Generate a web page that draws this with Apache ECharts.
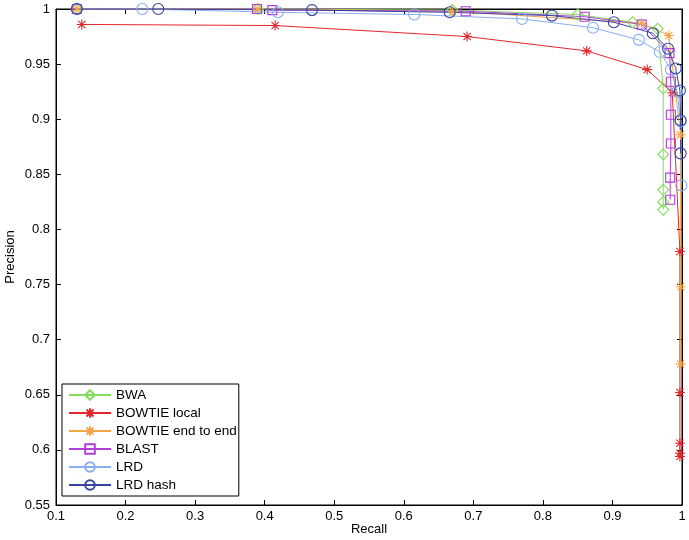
<!DOCTYPE html>
<html>
<head>
<meta charset="utf-8">
<script src="https://cdn.jsdelivr.net/npm/echarts@6/dist/echarts.min.js"></script>
<style>
  html, body { margin: 0; padding: 0; background: #fff; }
  #chart { width: 689px; height: 540px; }
</style>
</head>
<body>
<div id="chart"></div>
<script>
  // [recall, precision] pairs
  var bwa = [[0.13, 1.0], [0.39, 1.0], [0.67, 0.999], [0.85, 0.995], [0.929, 0.988], [0.965, 0.982],
    [0.973, 0.928], [0.973, 0.868], [0.973, 0.836], [0.973, 0.825], [0.973, 0.818]]
  var bowtieLocal = [[0.137, 0.986], [0.415, 0.985], [0.691, 0.975], [0.863, 0.962], [0.950, 0.945],
    [0.986, 0.924], [0.997, 0.780], [0.997, 0.652], [0.997, 0.606], [0.997, 0.597], [0.997, 0.594]]
  var bowtieEnd = [[0.13, 1.0], [0.39, 1.0], [0.67, 0.998], [0.942, 0.987], [0.981, 0.976],
    [0.998, 0.886], [0.998, 0.748], [0.998, 0.678]]
  var blast = [[0.13, 1.0], [0.389, 1.0], [0.411, 0.999], [0.689, 0.998], [0.86, 0.993], [0.942, 0.986],
    [0.982, 0.960], [0.984, 0.934], [0.984, 0.904], [0.984, 0.878], [0.983, 0.847], [0.983, 0.827]]
  var lrd = [[0.13, 1.0], [0.224, 1.0], [0.419, 0.997], [0.615, 0.995], [0.770, 0.991], [0.872, 0.983],
    [0.938, 0.972], [0.968, 0.961], [0.984, 0.945], [0.993, 0.925], [0.998, 0.898], [0.999, 0.840]]
  var lrdHash = [[0.13, 1.0], [0.247, 1.0], [0.468, 0.999], [0.666, 0.997], [0.813, 0.994], [0.902, 0.988],
    [0.958, 0.978], [0.980, 0.964], [0.991, 0.946], [0.997, 0.926], [0.998, 0.899], [0.998, 0.869]]

  var names = ['BWA', 'BOWTIE local', 'BOWTIE end to end', 'BLAST', 'LRD', 'LRD hash']
  var colors = ['#84dd5c', '#e4262c', '#f3a549', '#b03fd6', '#8aaef0', '#3843a4']

  var star = 'path://M0,-5L0,5M-5,0L5,0M-3.6,-3.6L3.6,3.6M-3.6,3.6L3.6,-3.6'
  var symbols = ['diamond', star, star, 'rect', 'circle', 'circle']
  var sizes = [11, 10, 10, 9, 11, 11]
  var datas = [bwa, bowtieLocal, bowtieEnd, blast, lrd, lrdHash]

  function fmt(v) {
    return String(parseFloat(v.toFixed(2)))
  }

  var chart = echarts.init(document.getElementById('chart'))
  var series = names.map(function(n, i) {
    return {
      name: n,
      type: 'line',
      data: datas[i],
      symbol: symbols[i],
      symbolSize: sizes[i],
      showAllSymbol: true,
      lineStyle: { color: colors[i], width: 1 },
      // hollow markers, line stays visible through them
      itemStyle: { color: 'rgba(255,255,255,0)', borderColor: colors[i], borderWidth: 1.1 },
      emphasis: { disabled: true },
      animation: false
    }
  })

  var option = {
    animation: false,
    color: colors,
    grid: {
      left: 56, right: 7, top: 9, bottom: 35,
      outerBoundsMode: 'none',
      containLabel: false,
      show: true, borderColor: '#000', borderWidth: 1, backgroundColor: '#fff'
    },
    legend: {
      data: names,
      orient: 'vertical',
      left: 62,
      top: 384,
      itemWidth: 42,
      itemHeight: 12,
      itemGap: 4,
      padding: [4, 2, 4, 6],
      borderColor: '#000',
      borderWidth: 1,
      backgroundColor: '#fff',
      textStyle: { fontFamily: 'Liberation Sans', fontSize: 13.5, color: '#000' }
    },
    xAxis: [
      {
        type: 'value', min: 0.1, max: 1, interval: 0.1,
        name: 'Recall', nameLocation: 'middle', nameGap: 18, nameMoveOverlap: false,
        nameTextStyle: { fontFamily: 'Liberation Sans', fontSize: 13, color: '#000' },
        axisLine: { lineStyle: { color: '#000' } },
        axisTick: { inside: true, length: 5, lineStyle: { color: '#000' } },
        axisLabel: { formatter: fmt, fontFamily: 'Liberation Sans', fontSize: 13, color: '#000', margin: 5 },
        splitLine: { show: false }
      },
      {
        type: 'value', min: 0.1, max: 1, interval: 0.1, position: 'top',
        axisLine: { lineStyle: { color: '#000' } },
        axisTick: { inside: true, length: 5, lineStyle: { color: '#000' } },
        axisLabel: { show: false },
        splitLine: { show: false }
      }
    ],
    yAxis: [
      {
        type: 'value', min: 0.55, max: 1, interval: 0.05,
        name: 'Precision', nameLocation: 'middle', nameGap: 39, nameMoveOverlap: false,
        nameTextStyle: { fontFamily: 'Liberation Sans', fontSize: 13, color: '#000' },
        axisLine: { lineStyle: { color: '#000' } },
        axisTick: { inside: true, length: 5, lineStyle: { color: '#000' } },
        axisLabel: { formatter: fmt, fontFamily: 'Liberation Sans', fontSize: 13, color: '#000', margin: 6 },
        splitLine: { show: false }
      },
      {
        type: 'value', min: 0.55, max: 1, interval: 0.05, position: 'right',
        axisLine: { lineStyle: { color: '#000' } },
        axisTick: { inside: true, length: 5, lineStyle: { color: '#000' } },
        axisLabel: { show: false },
        splitLine: { show: false }
      }
    ],
    series: series
  }
  chart.setOption(option)
</script>
</body>
</html>
